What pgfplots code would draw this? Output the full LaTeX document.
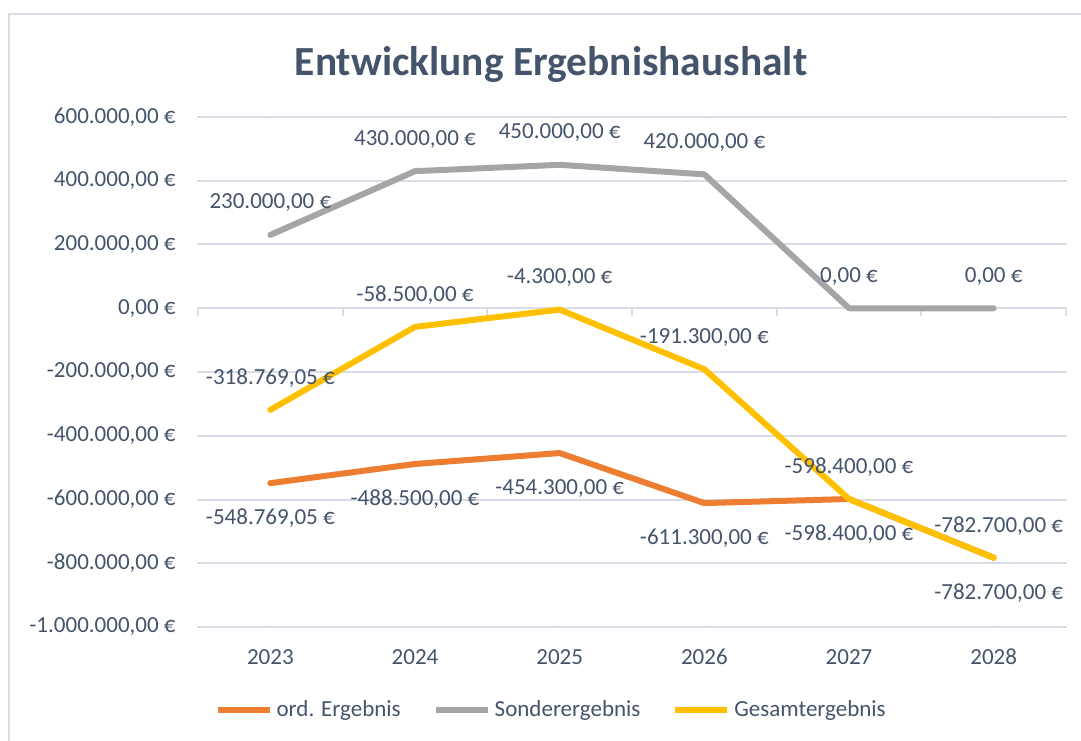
\documentclass[border=0pt]{standalone}
\usepackage{fontspec}
\setmainfont{Carlito}
\usepackage{pgfplots}
\pgfplotsset{compat=1.18}
\definecolor{cOrd}{HTML}{ED7D31}
\definecolor{cSon}{HTML}{A5A5A5}
\definecolor{cGes}{HTML}{FFC000}
\definecolor{txt}{HTML}{44546A}
\definecolor{gridc}{HTML}{D9DEE6}
\definecolor{framec}{HTML}{D9DEE6}
\newcommand\lblfont{\fontsize{11.5pt}{13.8pt}\selectfont}
\begin{document}
\begin{tikzpicture}
\useasboundingbox (0,0) rectangle (540.5pt,370pt);
\draw[framec, line width=1pt] (4.5pt,-2pt) -- (4.5pt,363pt) -- (542pt,363pt);
\node[text=txt, font=\fontsize{20.7pt}{24pt}\selectfont\bfseries] at (275.5pt,338pt) {Entwicklung Ergebnishaushalt};
\begin{axis}[
  at={(99pt,56.5pt)}, anchor=south west,
  scale only axis, width=434pt, height=255pt,
  xmin=-0.5, xmax=5.5, ymin=-1000000, ymax=600000,
  clip=false,
  scaled y ticks=false,
  axis line style={draw=none},
  major tick length=0pt,
  xtick={0,1,2,3,4,5},
  xticklabels={2023,2024,2025,2026,2027,2028},
  ytick={-1000000,-800000,-600000,-400000,-200000,0,200000,400000,600000},
  yticklabels={{-1.000.000,00 €},{-800.000,00 €},{-600.000,00 €},{-400.000,00 €},{-200.000,00 €},{0,00 €},{200.000,00 €},{400.000,00 €},{600.000,00 €}},
  ymajorgrids,
  grid style={gridc, line width=1pt},
  tick label style={font=\lblfont, text=txt, inner sep=0pt},
  yticklabel style={anchor=east, xshift=-11pt},
  xticklabel style={anchor=center, yshift=-15pt},
  legend style={draw=none, fill=none, at={(0.408,-0.163)}, anchor=center,
    legend columns=3, font=\lblfont, text=txt,
    /tikz/every even column/.append style={column sep=14pt},
    nodes={inner sep=2pt}},
  legend image code/.code={\draw[#1] (0pt,0pt) -- (26pt,0pt);},
  line join=round, line cap=round,
]
\draw[gridc, line width=1pt] (axis cs:-0.5,0) -- (axis cs:5.5,0);
\pgfplotsinvokeforeach{-0.5,0.5,1.5,2.5,3.5,4.5,5.5}{
  \draw[gridc, line width=1pt] (axis cs:#1,0) -- ++(0pt,-3.5pt);
}
\addplot[cOrd, line width=3pt] coordinates {
  (0,-548769.05) (1,-488500) (2,-454300) (3,-611300) (4,-598400) (5,-782700)};
\addlegendentry{ord. Ergebnis}
\addplot[cSon, line width=3pt] coordinates {
  (0,230000) (1,430000) (2,450000) (3,420000) (4,0) (5,0)};
\addlegendentry{Sonderergebnis}
\addplot[cGes, line width=3pt] coordinates {
  (0,-318769.05) (1,-58500) (2,-4300) (3,-191300) (4,-598400) (5,-782700)};
\addlegendentry{Gesamtergebnis}
% data labels
\addplot[draw=none, forget plot, point meta=explicit symbolic,
  nodes near coords={\pgfplotspointmeta}, nodes near coords align={center},
  every node near coord/.append style={anchor=center, yshift=-17.5pt, font=\lblfont, text=txt, inner sep=0pt}]
  coordinates {
  (0,-548769.05) [-548.769,05 €]
  (1,-488500) [-488.500,00 €]
  (2,-454300) [-454.300,00 €]
  (3,-611300) [-611.300,00 €]
  (4,-598400) [-598.400,00 €]
  (5.035,-782700) [-782.700,00 €]};
\addplot[draw=none, forget plot, point meta=explicit symbolic,
  nodes near coords={\pgfplotspointmeta}, nodes near coords align={center},
  every node near coord/.append style={anchor=center, yshift=16pt, font=\lblfont, text=txt, inner sep=0pt}]
  coordinates {
  (0,230000) [230.000,00 €]
  (1,430000) [430.000,00 €]
  (2,450000) [450.000,00 €]
  (3,420000) [420.000,00 €]
  (4,0) [0,00 €]
  (5,0) [0,00 €]};
\addplot[draw=none, forget plot, point meta=explicit symbolic,
  nodes near coords={\pgfplotspointmeta}, nodes near coords align={center},
  every node near coord/.append style={anchor=center, yshift=16pt, font=\lblfont, text=txt, inner sep=0pt}]
  coordinates {
  (0,-318769.05) [-318.769,05 €]
  (1,-58500) [-58.500,00 €]
  (2,-4300) [-4.300,00 €]
  (3,-191300) [-191.300,00 €]
  (4,-598400) [-598.400,00 €]
  (5.035,-782700) [-782.700,00 €]};
\end{axis}
\end{tikzpicture}
\end{document}
